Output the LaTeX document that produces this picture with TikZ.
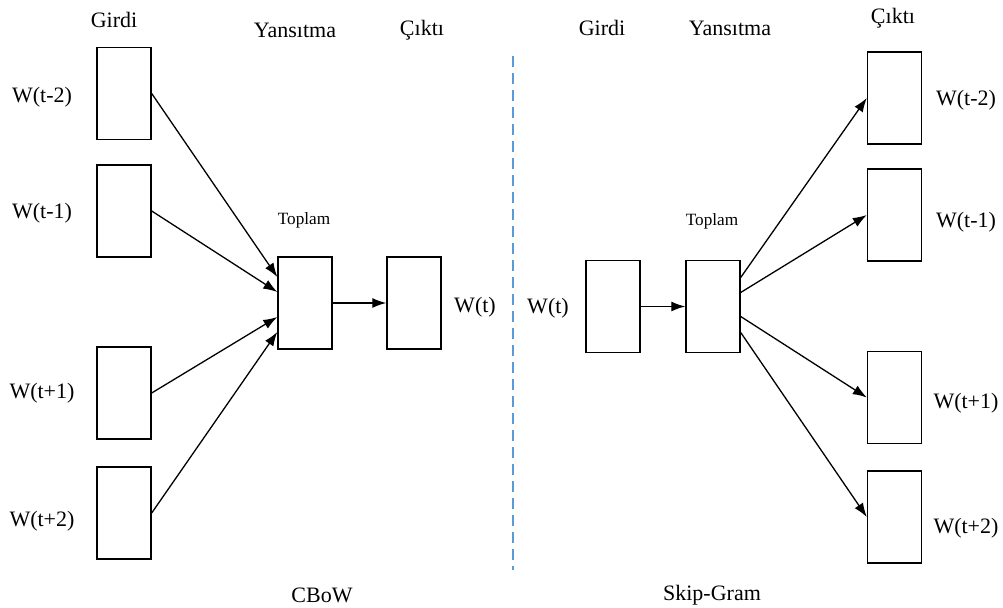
\documentclass[tikz,border=0pt]{standalone}
\usepackage{fontspec}
\setmainfont{Liberation Serif}
\usetikzlibrary{arrows.meta}
\tikzstyle{vec}=[draw, line width=.7pt, minimum width=27pt, minimum height=46pt, inner sep=0pt]
\tikzstyle{word}=[inner sep=1pt, font=\fontsize{11}{13}\selectfont]
\tikzstyle{small}=[inner sep=1pt, font=\fontsize{8.6}{10}\selectfont]
\tikzstyle{split}=[dash pattern=on 5.5pt off 3pt, line width=.6pt, color=sepblue]
\definecolor{sepblue}{RGB}{91,155,213}

\begin{document}
\begin{tikzpicture}[x=.5pt,y=-.5pt,>={Latex[length=7pt,width=5pt]},line width=.65pt]
    \useasboundingbox (0,0) rectangle (1003,608);

    % CBoW: context words
    \draw (124,93.5) node[vec] (cin1) {};
    \draw (124,211) node[vec] (cin2) {};
    \draw (124,393) node[vec] (cin3) {};
    \draw (124,513) node[vec] (cin4) {};
    \draw (42,97) node[word] (cw1) {W(t-2)};
    \draw (42,213) node[word] (cw2) {W(t-1)};
    \draw (42,393) node[word] (cw3) {W(t+1)};
    \draw (42,521) node[word] (cw4) {W(t+2)};

    % CBoW: sum and output
    \draw (305,303) node[vec] (csum) {};
    \draw (414,303) node[vec] (cout) {};
    \draw (304,220) node[small] (csumlbl) {Toplam};
    \draw (475,307) node[word] (cwt) {W(t)};

    \draw[->] (cin1.east) -- ([yshift=13pt]csum.west);
    \draw[->] (cin2.east) -- ([yshift=5.5pt]csum.west);
    \draw[->] (cin3.east) -- ([yshift=-7pt]csum.west);
    \draw[->] (cin4.east) -- ([yshift=-14.5pt]csum.west);
    \draw[->] (csum) -- (cout);

    % Skip-Gram: input and sum
    \draw (613,306.5) node[vec] (sin) {};
    \draw (713,306.5) node[vec] (ssum) {};
    \draw (712,221) node[small] (ssumlbl) {Toplam};
    \draw (548,308) node[word] (swt) {W(t)};
    \draw[->] (sin) -- (ssum);

    % Skip-Gram: context words
    \draw (894.5,98) node[vec] (sout1) {};
    \draw (894.5,215) node[vec] (sout2) {};
    \draw (894.5,397.5) node[vec] (sout3) {};
    \draw (894.5,517) node[vec] (sout4) {};
    \draw (966,100) node[word] (sw1) {W(t-2)};
    \draw (966,222) node[word] (sw2) {W(t-1)};
    \draw (966,403) node[word] (sw3) {W(t+1)};
    \draw (966,528) node[word] (sw4) {W(t+2)};

    \draw[->] ([yshift=14.5pt]ssum.east) -- (sout1.west);
    \draw[->] ([yshift=7pt]ssum.east) -- (sout2.west);
    \draw[->] ([yshift=-5pt]ssum.east) -- (sout3.west);
    \draw[->] ([yshift=-13pt]ssum.east) -- (sout4.west);

    % Column headings
    \draw (114,20) node[word] (hgirdi) {Girdi};
    \draw (295,30) node[word] (hyans) {Yansıtma};
    \draw (422,30) node[word] (hcikti) {Çıktı};
    \draw (602,28) node[word] (sgirdi) {Girdi};
    \draw (730,28) node[word] (syans) {Yansıtma};
    \draw (893,18) node[word] (scikti) {Çıktı};

    % Separator and model names
    \coordinate (septop) at (513,56);
    \coordinate (sepbot) at (513,570);
    \draw[split] (septop) -- (sepbot);
    \draw (322,595) node[word] (cbow) {CBoW};
    \draw (712,595) node[word] (skip) {Skip-Gram};

\end{tikzpicture}
\end{document}
